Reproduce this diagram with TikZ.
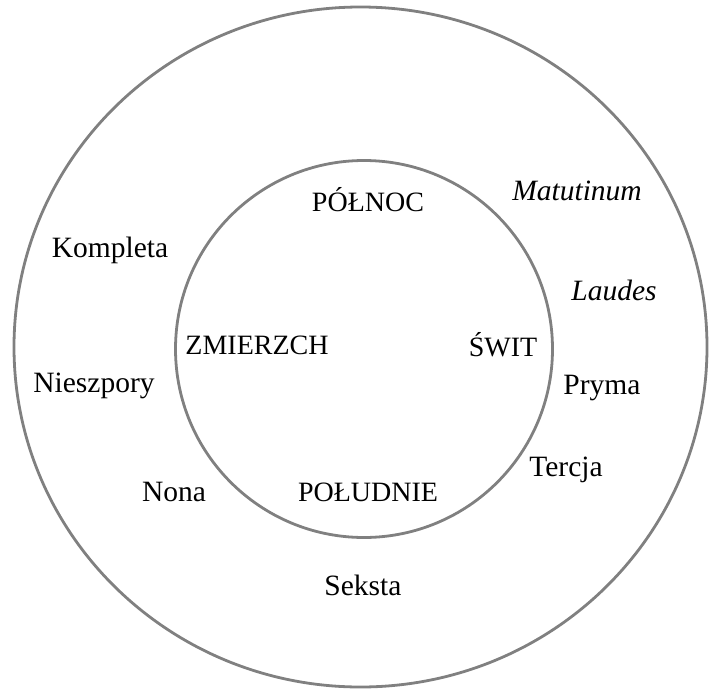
\documentclass[tikz,border=0pt]{standalone}
\usepackage{fontspec}
\setmainfont{Liberation Serif}
\begin{document}
\begin{tikzpicture}[x=1pt,y=-1pt,
  ring/.style={draw=black!50,line width=2.8pt},
  part/.style={inner sep=0pt,font=\fontsize{28}{30}\selectfont},
  hour/.style={inner sep=0pt,font=\fontsize{29.5}{32}\selectfont},
  hourit/.style={hour,font=\fontsize{29.5}{32}\selectfont\itshape}]
\path[use as bounding box] (0,0) rectangle (709,688);
\draw[ring] (360.5,347) ellipse[x radius=346.5,y radius=340];
\draw[ring] (364,349) circle[radius=188.5];
% pory dnia
\node[part] (polnoc) at (368,200) {PÓŁNOC};
\node[part] (zmierzch) at (257,345) {ZMIERZCH};
\node[part] (swit) at (503,345) {ŚWIT};
\node[part] (poludnie) at (368,492) {POŁUDNIE};
% godziny kanoniczne
\node[hourit] (matutinum) at (577,191) {Matutinum};
\node[hourit] (laudes) at (614,290) {Laudes};
\node[hour] (pryma) at (602,388) {Pryma};
\node[hour] (tercja) at (566,470) {Tercja};
\node[hour] (seksta) at (363,585) {Seksta};
\node[hour] (nona) at (174,492) {Nona};
\node[hour] (nieszpory) at (94,386) {Nieszpory};
\node[hour] (kompleta) at (110,250) {Kompleta};
\end{tikzpicture}
\end{document}
